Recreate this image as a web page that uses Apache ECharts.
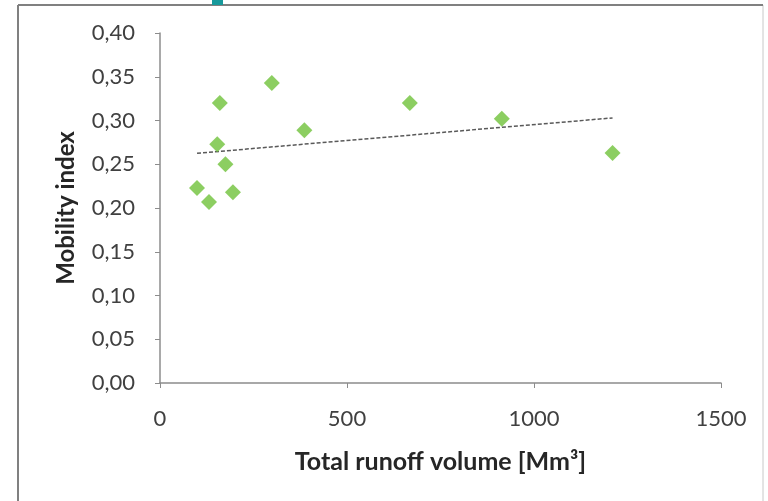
<!DOCTYPE html>
<html>
<head>
<meta charset="utf-8">
<script src="https://cdn.jsdelivr.net/npm/echarts@6/dist/echarts.min.js"></script>
<style>
  html, body { margin: 0; padding: 0; background: #fff; }
  #chart { width: 768px; height: 501px; }
</style>
</head>
<body>
<div id="chart"></div>
<script>
// runoff volume (Mm3) and mobility index
var runoff = [99, 131, 160, 153, 175, 195, 299, 386, 668, 914, 1210];
var mobility = [0.223, 0.207, 0.320, 0.273, 0.250, 0.218, 0.343, 0.289, 0.320, 0.302, 0.263];
var xTicks = [0, 500, 1000, 1500];
var yTicks = [0, 0.05, 0.10, 0.15, 0.20, 0.25, 0.30, 0.35, 0.40];

var chart = echarts.init(document.getElementById('chart'));

var points = runoff.map(function (x, i) { return [x, mobility[i]]; });

// linear trend line (least squares), like the spreadsheet did
var n = runoff.length, mx = 0, my = 0;
for (var i = 0; i < n; i++) { mx += runoff[i]; my += mobility[i]; }
mx /= n; my /= n;
var sxy = 0, sxx = 0;
for (var i = 0; i < n; i++) {
    sxy += (runoff[i] - mx) * (mobility[i] - my);
    sxx += (runoff[i] - mx) * (runoff[i] - mx);
}
var slope = sxy / sxx, icpt = my - slope * mx;
var xmin = Math.min.apply(null, runoff), xmax = Math.max.apply(null, runoff);
var trend = [[xmin, icpt + slope * xmin], [xmax, icpt + slope * xmax]];

var axisGray = '#8c8c8c';
var labelColor = '#404040';
var font = 'Lato, "Open Sans", sans-serif';

var option = {
    backgroundColor: '#fff',
    animation: false,
    grid: { left: 160, right: 47, top: 33, bottom: 118 },
    graphic: [
        { type: 'rect', shape: { x: 18, y: 5, width: 745, height: 500 },
          style: { fill: 'none', stroke: '#c8c8c8', lineWidth: 1 } },
        { type: 'line', shape: { x1: 18, y1: 5, x2: 763, y2: 5 },
          style: { stroke: '#808080', lineWidth: 2 } },
        { type: 'line', shape: { x1: 18, y1: 5, x2: 18, y2: 501 },
          style: { stroke: '#808080', lineWidth: 2 } },
        { type: 'rect', shape: { x: 212, y: 0, width: 11, height: 5 },
          style: { fill: '#17999b' } }
    ],
    xAxis: {
        type: 'value',
        min: 0, max: 1500, interval: 500,
        name: 'Total runoff volume [Mm³]',
        nameLocation: 'middle',
        nameGap: 66,
        nameTextStyle: { fontFamily: font, fontSize: 25, fontWeight: 'bold', color: '#262626' },
        axisLine: { show: true, lineStyle: { color: axisGray, width: 1.5 } },
        axisTick: { show: true, inside: false, length: 5, lineStyle: { color: axisGray } },
        axisLabel: { fontFamily: font, fontSize: 22, color: labelColor, margin: 25,
            formatter: function (v) { return xTicks.indexOf(v) >= 0 ? String(v) : ''; } },
        splitLine: { show: false }
    },
    yAxis: {
        type: 'value',
        min: 0, max: 0.4, interval: 0.05,
        name: 'Mobility index',
        nameLocation: 'middle',
        nameGap: 82,
        nameTextStyle: { fontFamily: font, fontSize: 24, fontWeight: 'bold', color: '#262626' },
        axisLine: { show: true, lineStyle: { color: axisGray, width: 1.5 } },
        axisTick: { show: true, inside: false, length: 5, lineStyle: { color: axisGray } },
        axisLabel: { fontFamily: font, fontSize: 22, color: labelColor, margin: 25,
            formatter: function (v) { return v.toFixed(2).replace('.', ','); } },
        splitLine: { show: false }
    },
    series: [
        {
            name: 'trend',
            type: 'line',
            data: trend,
            symbol: 'none',
            lineStyle: { color: '#595959', width: 1.5, type: [4, 2] },
            silent: true,
            z: 1
        },
        {
            name: 'Mobility index',
            type: 'scatter',
            data: points,
            symbol: 'diamond',
            symbolSize: 16,
            itemStyle: { color: '#6fc23a' },
            z: 2
        }
    ]
};

chart.setOption(option);
</script>
</body>
</html>
